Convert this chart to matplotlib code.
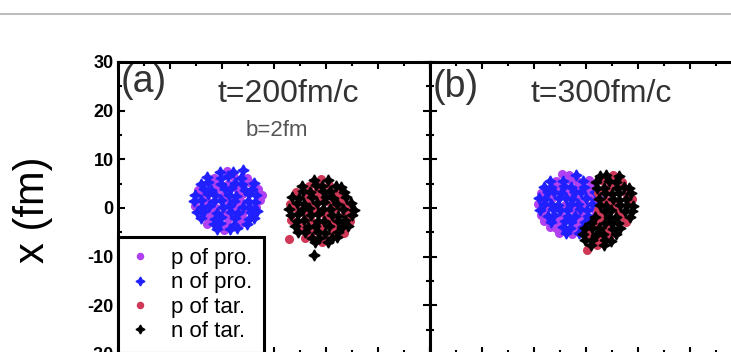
import matplotlib.pyplot as plt
import numpy as np
from matplotlib.lines import Line2D
from matplotlib.ticker import MultipleLocator

plt.rcParams['font.family'] = ['Liberation Sans', 'DejaVu Sans']
plt.rcParams['axes.unicode_minus'] = False

# ---------------------------------------------------------------------------
# nucleon positions (z, x) in fm
# ---------------------------------------------------------------------------
# (a) t=200fm/c
a_p_pro = [(-9.1, 7.6), (-11.5, 6.2), (-7.6, 6.4), (-5.1, 6.1), (-11.4, 5.2), (-8.8, 4.9),
           (-4.9, 5.3), (-14.7, 3.8), (-10.8, 4.1), (-6.9, 3.7), (-3.1, 4.0), (-13.9, 2.8),
           (-10.0, 2.5), (-6.1, 2.9), (-2.4, 2.6), (-12.8, 1.4), (-8.9, 1.7), (-6.3, 1.3),
           (-2.7, 1.6), (-15.1, 0.4), (-11.2, 0.1), (-7.3, 0.5), (-3.4, 0.2), (-12.2, -0.8),
           (-9.6, -1.1), (-5.7, -0.7), (-12.7, -2.0), (-8.8, -2.3), (-6.2, -1.9), (-12.9, -3.2),
           (-9.0, -3.5), (-6.4, -3.1), (-9.7, -4.5)]
a_n_pro = [(-10.4, 7.4), (-7.8, 7.5), (-6.0, 7.9), (-12.8, 6.4), (-10.2, 6.1), (-8.9, 6.5),
           (-6.3, 6.2), (-14.0, 5.0), (-12.7, 5.3), (-10.1, 5.0), (-7.5, 5.2), (-6.2, 4.9),
           (-3.8, 5.1), (-13.4, 4.0), (-12.1, 3.7), (-9.5, 3.9), (-8.2, 4.1), (-5.6, 3.8),
           (-4.3, 3.9), (-15.2, 2.6), (-12.6, 2.8), (-11.3, 2.6), (-8.7, 2.7), (-7.4, 2.5),
           (-4.8, 2.8), (-3.5, 2.6), (-15.4, 1.5), (-14.1, 1.7), (-11.5, 1.4), (-10.2, 1.6),
           (-7.6, 1.4), (-5.0, 1.5), (-3.7, 1.3), (-13.8, 0.3), (-12.5, 0.5), (-9.9, 0.2),
           (-8.6, 0.4), (-6.0, 0.3), (-4.7, 0.1), (-14.8, -0.9), (-13.5, -0.7), (-10.9, -1.0),
           (-8.3, -0.8), (-7.0, -1.0), (-4.4, -0.9), (-3.2, -0.7), (-14.0, -2.1), (-11.4, -2.2),
           (-10.1, -1.9), (-7.5, -2.1), (-4.9, -2.2), (-3.9, -2.0), (-11.6, -3.3), (-10.3, -3.1),
           (-7.7, -3.4), (-5.2, -3.2), (-11.0, -4.3), (-8.4, -4.4), (-7.1, -4.2)]
a_p_tar = [(9.0, 5.9), (6.7, 4.5), (10.6, 4.7), (4.3, 3.3), (8.2, 3.5), (12.1, 3.3), (6.1, 2.3),
           (8.7, 2.1), (12.6, 2.3), (3.1, 0.9), (7.0, 1.1), (10.9, 0.9), (13.5, 1.1), (4.2, -0.1),
           (8.1, -0.3), (12.0, -0.1), (14.6, -0.3), (5.9, -1.3), (9.8, -1.5), (13.7, -1.3),
           (3.2, -2.5), (7.1, -2.7), (11.0, -2.5), (14.7, -2.7), (5.3, -3.7), (9.2, -3.9),
           (11.8, -3.7), (7.2, -5.1), (11.1, -4.9), (13.4, -5.1), (6.0, -6.1), (9.9, -6.3),
           (9.2, -7.0), (2.9, -6.4)]
a_n_tar = [(7.7, 5.7), (10.3, 5.8), (5.4, 4.6), (8.0, 4.7), (9.3, 4.5), (11.9, 4.6), (12.8, 4.4),
           (5.6, 3.5), (6.9, 3.3), (9.5, 3.4), (10.8, 3.5), (13.4, 3.3), (3.5, 2.2), (4.8, 2.1),
           (7.4, 2.3), (10.0, 2.2), (11.3, 2.0), (13.9, 2.2), (4.4, 1.0), (5.7, 0.9), (8.3, 1.0),
           (9.6, 1.2), (12.2, 0.9), (14.8, 1.0), (2.9, -0.2), (5.5, -0.3), (6.8, -0.1), (9.4, -0.2),
           (10.7, -0.3), (13.3, -0.2), (15.3, -0.5), (3.3, -1.4), (4.6, -1.3), (7.2, -1.5),
           (8.5, -1.3), (11.1, -1.4), (12.4, -1.6), (15.0, -1.4), (4.5, -2.6), (5.8, -2.4),
           (8.4, -2.6), (9.7, -2.7), (12.3, -2.6), (13.6, -2.5), (4.0, -3.8), (6.6, -3.9),
           (7.9, -3.7), (10.5, -3.8), (13.1, -3.9), (14.2, -3.7), (4.6, -5.0), (5.9, -4.9),
           (8.5, -5.0), (9.8, -5.2), (12.4, -5.0), (7.3, -6.2), (8.6, -6.1), (11.2, -6.2),
           (12.2, -6.0), (7.9, -7.0), (10.4, -6.9), (7.7, -9.7)]

# (b) t=300fm/c
b_p_pro = [(-4.6, 6.9), (-3.3, 6.7), (-5.7, 5.5), (-3.1, 5.7), (-1.8, 5.5), (0.5, 5.7), (-5.5, 4.5),
           (-1.6, 4.3), (1.0, 4.5), (-8.7, 3.1), (-3.5, 3.3), (0.4, 3.1), (-6.5, 2.1), (-1.3, 1.9),
           (1.3, 2.1), (-9.3, 0.9), (-4.1, 0.7), (-0.2, 0.9), (2.4, 0.7), (-7.6, -0.3), (-2.4, -0.5),
           (1.5, -0.3), (-8.7, -1.5), (-4.8, -1.7), (-0.9, -1.5), (1.7, -1.7), (-8.0, -2.7),
           (-5.4, -2.9), (-1.5, -2.7), (1.1, -2.9), (-7.0, -3.9), (-5.7, -4.1), (-1.8, -3.9),
           (-5.2, -5.1), (-2.6, -5.3)]
b_n_pro = [(-2.0, 6.8), (-7.0, 5.6), (-4.4, 5.5), (-0.5, 5.6), (-8.1, 4.4), (-6.8, 4.3), (-4.2, 4.5),
           (-2.9, 4.4), (-0.3, 4.3), (-7.4, 3.2), (-6.1, 3.3), (-4.8, 3.1), (-2.2, 3.2), (-0.9, 3.3),
           (1.7, 3.2), (-9.1, 2.0), (-7.8, 1.9), (-5.2, 2.0), (-3.9, 2.1), (-2.6, 1.9), (0.0, 2.0),
           (2.5, 2.0), (-8.0, 0.8), (-6.7, 0.9), (-5.4, 0.7), (-2.8, 0.8), (-1.5, 0.9), (1.1, 0.8),
           (-8.9, -0.4), (-6.3, -0.3), (-5.0, -0.5), (-3.7, -0.4), (-1.1, -0.3), (0.2, -0.4),
           (2.6, -0.5), (-7.4, -1.6), (-6.1, -1.5), (-3.5, -1.6), (-2.2, -1.7), (0.4, -1.6),
           (-6.7, -2.8), (-4.1, -2.7), (-2.8, -2.9), (-0.2, -2.8), (-4.4, -4.0), (-3.1, -4.1),
           (-0.5, -3.9), (0.6, -4.0), (-3.9, -5.2), (-1.4, -5.1)]
b_p_tar = [(5.2, 6.7), (3.2, 5.5), (7.0, 5.3), (4.7, 4.3), (2.4, 3.0), (7.6, 3.1), (3.8, 1.7),
           (8.9, 1.9), (5.2, 0.7), (2.3, -0.5), (6.2, -0.7), (3.1, -1.8), (7.0, -1.7), (2.3, -3.1),
           (7.6, -2.9), (3.8, -4.2), (0.7, -5.3), (4.6, -5.5), (2.4, -6.6), (2.2, -7.5), (0.1, -8.6)]
b_n_tar = [(2.6, 6.5), (3.9, 6.7), (6.3, 6.5), (1.9, 5.4), (4.5, 5.5), (5.8, 5.3), (2.1, 4.2),
           (3.4, 4.1), (6.0, 4.2), (7.3, 4.3), (8.2, 4.1), (3.7, 3.0), (5.0, 2.9), (6.3, 3.1),
           (8.7, 3.0), (2.5, 1.8), (5.1, 1.9), (6.4, 1.7), (7.7, 1.8), (2.6, 0.6), (3.9, 0.5),
           (6.5, 0.6), (7.8, 0.7), (9.0, 0.5), (3.6, -0.6), (4.9, -0.5), (7.5, -0.6), (8.9, -0.7),
           (1.8, -1.8), (4.4, -1.9), (5.7, -1.8), (8.4, -1.9), (1.0, -3.0), (3.6, -3.0), (4.9, -2.9),
           (6.2, -3.1), (-0.1, -4.2), (1.2, -4.1), (2.5, -4.2), (5.1, -4.3), (6.5, -4.1),
           (-0.6, -5.4), (2.0, -5.5), (3.3, -5.4), (5.8, -5.3), (-0.2, -6.6), (1.1, -6.5),
           (3.7, -6.6), (4.8, -6.7), (0.9, -7.6), (3.4, -7.7)]

labels = ['p of pro.', 'n of pro.', 'p of tar.', 'n of tar.']
colors = ['#b040f0', '#2020ff', '#d03858', '#000000']
markers = ['o', (4, 1, 0), 'o', (4, 1, 0)]
msizes = [5.5, 8.0, 5.5, 8.0]

panels = [
    (a_p_pro, a_n_pro, a_p_tar, a_n_tar),
    (b_p_pro, b_n_pro, b_p_tar, b_n_tar),
]

# ---------------------------------------------------------------------------
fig = plt.figure(figsize=(7.31, 3.52), dpi=100)
W, H = 731, 352
ax_a = fig.add_axes([118 / W, -2 / H, 312 / W, 292 / H])
ax_b = fig.add_axes([430 / W, -2 / H, 312 / W, 292 / H])

for ax, clouds in zip((ax_a, ax_b), panels):
    for pts, lab, c, m, ms in zip(clouds, labels, colors, markers, msizes):
        xy = np.array(pts)
        ax.plot(xy[:, 0], xy[:, 1], ls='none', marker=m, ms=ms, color=c,
                mec=c, mew=1.0, label=lab)
    ax.set_xlim(-30, 30)
    ax.set_ylim(-30, 30)
    ax.xaxis.set_major_locator(MultipleLocator(10))
    ax.xaxis.set_minor_locator(MultipleLocator(5))
    ax.yaxis.set_major_locator(MultipleLocator(10))
    ax.yaxis.set_minor_locator(MultipleLocator(5))
    ax.tick_params(which='both', direction='in', top=True, right=True,
                   width=1.5, labelbottom=False)
    ax.tick_params(which='major', length=5)
    ax.tick_params(which='minor', length=3)
    for sp in ax.spines.values():
        sp.set_linewidth(2.2)

ax_b.tick_params(labelleft=False)
ax_a.tick_params(axis='y', labelsize=13, pad=3)
for t in ax_a.get_yticklabels():
    t.set_fontweight('bold')

# panel texts
ax_a.text(0.01, 0.93, '(a)', transform=ax_a.transAxes, fontsize=27,
          color='#333333', ha='left', va='center')
ax_a.text(0.545, 0.89, 't=200fm/c', transform=ax_a.transAxes, fontsize=23,
          color='#333333', ha='center', va='center')
ax_a.text(0.51, 0.765, 'b=2fm', transform=ax_a.transAxes, fontsize=16,
          color='#555555', ha='center', va='center')
ax_b.text(0.01, 0.915, '(b)', transform=ax_b.transAxes, fontsize=27,
          color='#333333', ha='left', va='center')
ax_b.text(0.55, 0.89, 't=300fm/c', transform=ax_b.transAxes, fontsize=23,
          color='#333333', ha='center', va='center')

# legend
leg = ax_a.legend(loc='upper left', bbox_to_anchor=(0, (354 - 237) / 292),
                  borderaxespad=0, fontsize=16, frameon=True, fancybox=False,
                  edgecolor='black', handlelength=1.0, handletextpad=0.9,
                  labelspacing=0.15, borderpad=0.5, markerscale=0.8)
leg.get_frame().set_linewidth(2.2)
leg.get_frame().set_alpha(1)

# axis label
fig.text(33 / W, 1 - 210 / H, 'x (fm)', rotation=90, fontsize=30,
         ha='center', va='center')

# grey rule at the top of the page
fig.add_artist(Line2D([0, 1], [1 - 14 / H] * 2, transform=fig.transFigure,
                      color='#bdbdbd', lw=1.5))

plt.savefig('out.png', dpi=100)
